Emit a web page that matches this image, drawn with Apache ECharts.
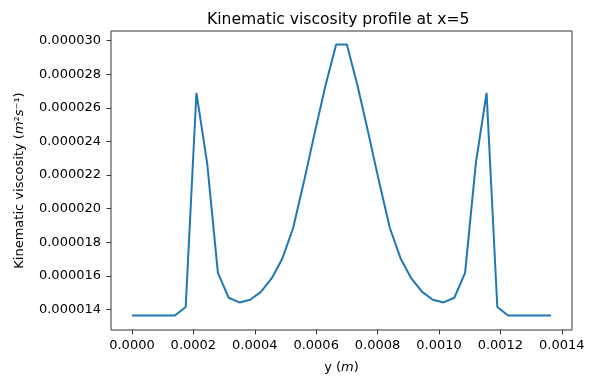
<!DOCTYPE html>
<html>
<head>
<meta charset="utf-8">
<script src="https://cdn.jsdelivr.net/npm/echarts@6/dist/echarts.min.js"></script>
<style>
html,body{margin:0;padding:0;background:#fff;}
#chart{width:593px;height:381px;}
</style>
</head>
<body>
<div id="chart"></div>
<script>
// y position across the channel (m)
const yPos = [0, 0.000035, 0.00007, 0.000105, 0.00014, 0.000175, 0.00021, 0.000245, 0.00028, 0.000315,
  0.00035, 0.000385, 0.00042, 0.000455, 0.00049, 0.000525, 0.00056, 0.000595, 0.00063, 0.000665,
  0.0007, 0.000735, 0.00077, 0.000805, 0.00084, 0.000875, 0.00091, 0.000945, 0.00098, 0.001015,
  0.00105, 0.001085, 0.00112, 0.001155, 0.00119, 0.001225, 0.00126, 0.001295, 0.00133, 0.001365];
// kinematic viscosity (m^2 s^-1)
const viscosity = [1.364e-5, 1.364e-5, 1.364e-5, 1.364e-5, 1.364e-5, 1.415e-5, 2.69e-5, 2.27e-5, 1.618e-5, 1.470e-5,
  1.442e-5, 1.458e-5, 1.505e-5, 1.585e-5, 1.704e-5, 1.885e-5, 2.16e-5, 2.45e-5, 2.73e-5, 2.978e-5,
  2.978e-5, 2.73e-5, 2.45e-5, 2.16e-5, 1.885e-5, 1.704e-5, 1.585e-5, 1.505e-5, 1.458e-5, 1.442e-5,
  1.470e-5, 1.618e-5, 2.27e-5, 2.69e-5, 1.415e-5, 1.364e-5, 1.364e-5, 1.364e-5, 1.364e-5, 1.364e-5];
const xTicks = [0, 0.0002, 0.0004, 0.0006, 0.0008, 0.0010, 0.0012, 0.0014];
const yTicks = [0.000014, 0.000016, 0.000018, 0.000020, 0.000022, 0.000024, 0.000026, 0.000028, 0.000030];

const FONT = 'DejaVu Sans';
const chart = echarts.init(document.getElementById('chart'), null, {renderer: 'canvas'});
const data = yPos.map((x, i) => [x, viscosity[i]]);

chart.setOption({
  animation: false,
  backgroundColor: '#fff',
  title: {
    text: 'Kinematic viscosity profile at x=5',
    left: 202, top: 7,
    textStyle: {fontFamily: FONT, fontSize: 15.6, fontWeight: 'normal', color: '#000'}
  },
  grid: {
    left: 111, top: 31, width: 461, height: 299,
    show: true, borderColor: '#333', borderWidth: 1, backgroundColor: 'transparent'
  },
  xAxis: {
    type: 'value',
    min: -0.00006825, max: 0.00143325,
    name: '{n|y (}{i|m}{n|)}',
    nameLocation: 'middle', nameGap: 31,
    nameTextStyle: {
      fontFamily: FONT, fontSize: 13, color: '#000',
      rich: {n: {fontFamily: FONT, fontSize: 13, color: '#000'},
             i: {fontFamily: FONT, fontSize: 13, fontStyle: 'italic', color: '#000'}}
    },
    axisLine: {show: false, onZero: false},
    splitLine: {show: false},
    axisTick: {show: true, customValues: xTicks, length: 4.5, lineStyle: {color: '#333', width: 1}},
    axisLabel: {
      customValues: xTicks, margin: 9,
      fontFamily: FONT, fontSize: 13, color: '#000',
      formatter: v => v.toFixed(4)
    }
  },
  yAxis: {
    type: 'value',
    min: 0.00001278, max: 0.00003058,
    name: '{n|Kinematic viscosity (}{i|m}{n|²}{i|s}{n|⁻¹}{n|)}',
    nameLocation: 'middle', nameGap: 85,
    nameTextStyle: {
      fontFamily: FONT, fontSize: 13, color: '#000',
      rich: {n: {fontFamily: FONT, fontSize: 13, color: '#000'},
             i: {fontFamily: FONT, fontSize: 13, fontStyle: 'italic', color: '#000'}}
    },
    axisLine: {show: false, onZero: false},
    splitLine: {show: false},
    axisTick: {show: true, customValues: yTicks, length: 4.5, lineStyle: {color: '#333', width: 1}},
    axisLabel: {
      customValues: yTicks, margin: 10,
      fontFamily: FONT, fontSize: 13, color: '#000',
      formatter: v => v.toFixed(6)
    }
  },
  series: [{
    type: 'line',
    data: data,
    showSymbol: false,
    symbol: 'none',
    lineStyle: {color: '#1f77b4', width: 2},
    itemStyle: {color: '#1f77b4'},
    clip: true
  }]
});
</script>
</body>
</html>
